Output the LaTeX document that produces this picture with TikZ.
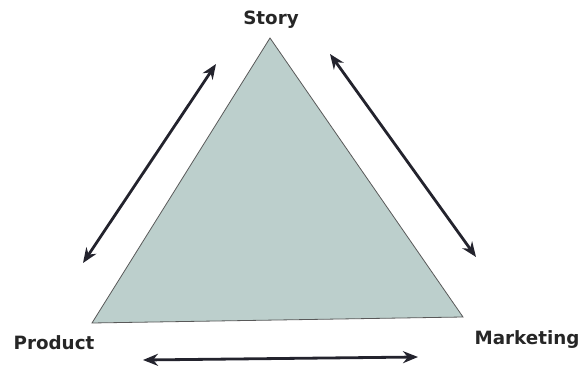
\documentclass[tikz,border=0pt]{standalone}
\usepackage{fontspec}
\setmainfont{DejaVu Sans}
\usetikzlibrary{positioning,arrows.meta}
\definecolor{TriFill}{HTML}{BCCFCC}
\definecolor{ArrowInk}{HTML}{23232D}

\begin{document}
\begin{tikzpicture}[x=1pt,y=-1pt,
  lbl/.style={font=\fontsize{18.3}{22}\selectfont\bfseries, text=black!85, inner sep=0pt, anchor=base},
  tri/.style={draw=black!65, line width=0.8pt, fill=TriFill},
  flow/.style={{Stealth[length=15pt,width=12pt]}-{Stealth[length=15pt,width=12pt]}, line width=2.8pt, draw=ArrowInk}]
\useasboundingbox (0,0) rectangle (582,369);
% triangle corners
\coordinate (top)  at (270,38);
\coordinate (left) at (92,323);
\coordinate (right) at (463,317);
\draw[tri] (top) -- (left) -- (right) -- cycle;
\node[lbl] (story)     at (271,25)  {Story};
\node[lbl] (product)   at (54,349)  {Product};
\node[lbl] (marketing) at (527,344) {Marketing};
% arrow ends
\coordinate (sp1) at (83,263);
\coordinate (sp2) at (216,64);
\coordinate (sm1) at (330,54);
\coordinate (sm2) at (476,257);
\coordinate (pm1) at (143,360);
\coordinate (pm2) at (418,357);
\draw[flow] (sp1) -- (sp2);
\draw[flow] (sm1) -- (sm2);
\draw[flow] (pm1) -- (pm2);
\end{tikzpicture}
\end{document}
